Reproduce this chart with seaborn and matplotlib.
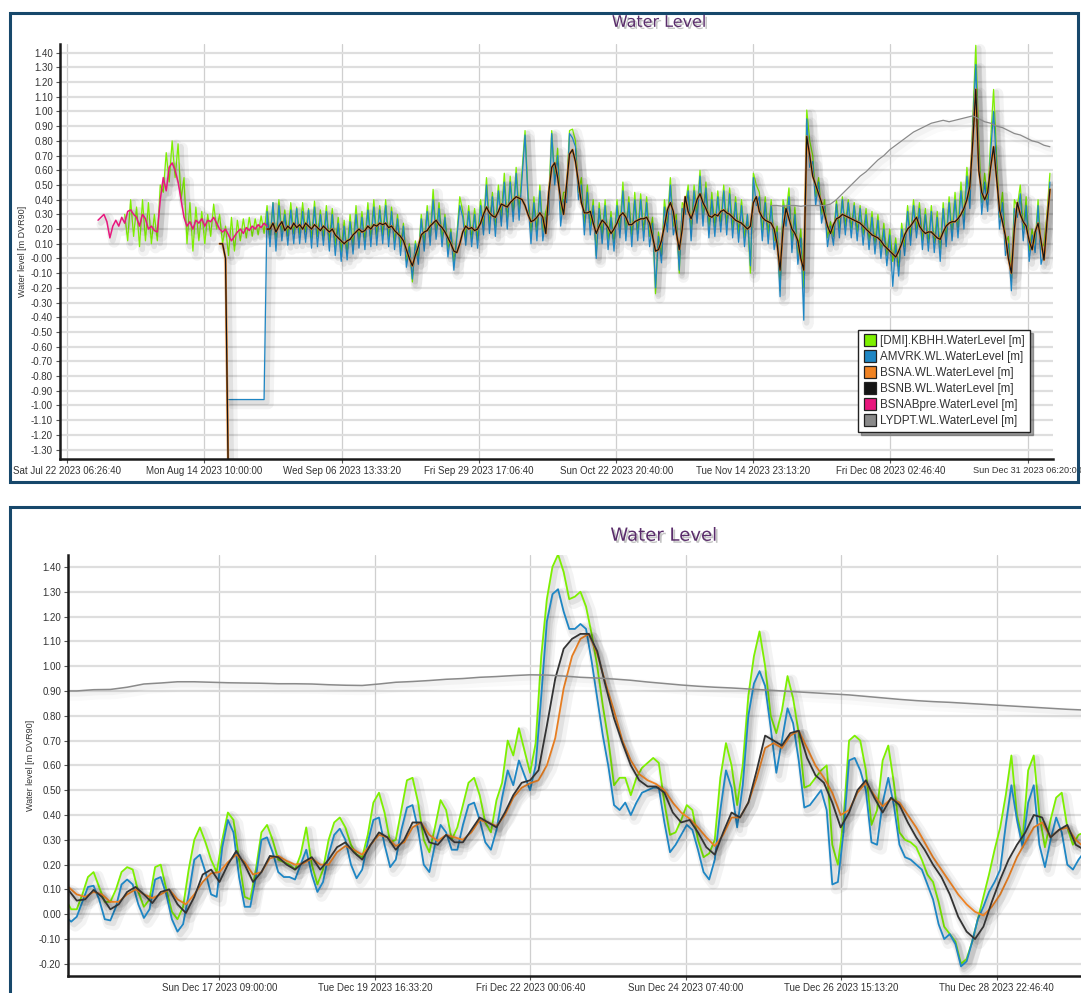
import numpy as np
import pandas as pd
import matplotlib
matplotlib.use("Agg")
import matplotlib.pyplot as plt
import matplotlib.patheffects as pe
from matplotlib.patches import Rectangle
from matplotlib.lines import Line2D
import seaborn as sns

# ---------------- overview panel (12 h steps) ----------------
pink_top = [0.26, 0.28, 0.30, 0.25, 0.14, 0.22, 0.26, 0.22, 0.28, 0.24,
            0.32, 0.33, 0.30, 0.28, 0.22, 0.30, 0.27, 0.20, 0.22, 0.19,
            0.18, 0.40, 0.55, 0.46, 0.62, 0.65, 0.60, 0.52, 0.40, 0.28,
            0.22, 0.25, 0.20, 0.26, 0.24, 0.27, 0.22, 0.26, 0.25, 0.28,
            0.24, 0.20, 0.18, 0.20, 0.16, 0.12, 0.15, 0.18, 0.20, 0.17,
            0.21, 0.19, 0.22, 0.20, 0.23, 0.21, 0.24, 0.22]

green_top = [0.30, 0.12, 0.40, 0.15, 0.35, 0.08, 0.40, 0.12, 0.38, 0.10,
             0.30, 0.12, 0.50, 0.45, 0.72, 0.52, 0.80, 0.55, 0.78, 0.40,
             0.55, 0.10, 0.38, 0.05, 0.35, 0.12, 0.32, 0.10, 0.30, 0.15,
             0.37, 0.20, 0.30, 0.10, 0.22, 0.02, 0.28, 0.05, 0.26, 0.12,
             0.27, 0.14, 0.28, 0.15, 0.27, 0.16, 0.29, 0.17,
             0.36, 0.14, 0.38, 0.12, 0.40, 0.18, 0.33, 0.15, 0.38, 0.17,
             0.35, 0.16, 0.38, 0.18, 0.34, 0.13, 0.39, 0.15, 0.33, 0.14,
             0.36, 0.11, 0.34, 0.08, 0.28, 0.04, 0.26, 0.04, 0.30, 0.09,
             0.36, 0.12, 0.32, 0.12, 0.38, 0.13, 0.40, 0.15, 0.36, 0.16,
             0.40, 0.13, 0.35, 0.11, 0.30, 0.08, 0.24, -0.02, 0.10, -0.16,
             0.12, 0.00, 0.30, 0.10, 0.36, 0.14, 0.47, 0.18, 0.38, 0.13,
             0.30, 0.06, 0.20, -0.03, 0.16, 0.42, 0.32, 0.14, 0.36, 0.13,
             0.34, 0.12, 0.40, 0.22, 0.55, 0.22, 0.45, 0.20, 0.50, 0.28,
             0.58, 0.25, 0.56, 0.30, 0.62, 0.32, 0.60, 0.87, 0.45, 0.16,
             0.42, 0.18, 0.50, 0.18, 0.32, 0.40, 0.87, 0.55, 0.75, 0.30,
             0.45, 0.45, 0.87, 0.88, 0.80, 0.45, 0.55, 0.22, 0.50, 0.22,
             0.40, 0.02, 0.38, 0.16, 0.40, 0.12, 0.32, 0.10, 0.40, 0.20,
             0.52, 0.18, 0.42, 0.14, 0.45, 0.17, 0.44, 0.18, 0.42, 0.15,
             0.28, -0.24, 0.18, 0.02, 0.40, 0.24, 0.55, 0.22, 0.30, -0.10,
             0.38, 0.35, 0.50, 0.18, 0.50, 0.30, 0.60, 0.28, 0.52, 0.20,
             0.45, 0.21, 0.46, 0.24, 0.50, 0.22, 0.48, 0.20, 0.42, 0.17,
             0.40, 0.14, 0.30, -0.10, 0.58, 0.50, 0.45, 0.18, 0.42, 0.16,
             0.40, 0.12, 0.22, -0.22, 0.40, 0.30, 0.48, 0.10, 0.35, 0.02,
             0.20, -0.20, 1.01, 0.80, 0.70, 0.42, 0.55, 0.30, 0.40, 0.14,
             0.25, 0.15, 0.40, 0.20, 0.42, 0.22, 0.40, 0.20, 0.38, 0.18,
             0.36, 0.16, 0.34, 0.12, 0.32, 0.10, 0.30, 0.06, 0.24, 0.02,
             0.20, -0.02, 0.14, -0.08, 0.24, 0.08, 0.36, 0.15, 0.40, 0.20,
             0.38, 0.12, 0.34, 0.10, 0.36, 0.10, 0.32, 0.06, 0.38, 0.14,
             0.42, 0.18, 0.45, 0.20, 0.52, 0.28, 0.62, 0.40, 0.95, 1.45,
             0.80, 0.38, 0.58, 0.40, 0.80, 1.15, 0.70, 0.28, 0.45, 0.10,
             0.15, -0.15, 0.40, 0.35, 0.50, 0.20, 0.42, 0.05, 0.20, 0.10,
             0.40, 0.06, 0.10, 0.30, 0.58]

blue_top = [-0.96, -0.96, -0.96, -0.96, -0.96, -0.96, -0.96, -0.96, -0.96, -0.96,
            -0.96, -0.96, -0.96,
            0.32, 0.08, 0.38, 0.05, 0.36, 0.12, 0.30, 0.09, 0.33, 0.10,
            0.34, 0.10, 0.32, 0.11, 0.33, 0.07, 0.35, 0.08, 0.30, 0.09,
            0.32, 0.05, 0.30, 0.02, 0.24, -0.02, 0.22, -0.01, 0.25, 0.03,
            0.30, 0.07, 0.28, 0.06, 0.33, 0.08, 0.35, 0.09, 0.33, 0.10,
            0.36, 0.08, 0.32, 0.06, 0.27, 0.02, 0.22, -0.06, 0.08, -0.14,
            0.10, -0.04, 0.27, 0.05, 0.32, 0.09, 0.40, 0.13, 0.34, 0.08,
            0.28, 0.01, 0.18, -0.08, 0.14, 0.36, 0.28, 0.09, 0.32, 0.08,
            0.30, 0.07, 0.36, 0.16, 0.50, 0.17, 0.42, 0.15, 0.46, 0.22,
            0.52, 0.20, 0.52, 0.25, 0.58, 0.26, 0.55, 0.84, 0.40, 0.10,
            0.38, 0.12, 0.46, 0.12, 0.28, 0.30, 0.85, 0.50, 0.70, 0.22,
            0.40, 0.38, 0.85, 0.82, 0.76, 0.40, 0.50, 0.16, 0.45, 0.16,
            0.36, 0.00, 0.34, 0.10, 0.36, 0.06, 0.28, 0.05, 0.36, 0.14,
            0.46, 0.12, 0.38, 0.08, 0.40, 0.12, 0.40, 0.12, 0.38, 0.08,
            0.24, -0.20, 0.15, -0.03, 0.35, 0.18, 0.50, 0.16, 0.26, -0.08,
            0.34, 0.30, 0.46, 0.12, 0.46, 0.24, 0.56, 0.22, 0.48, 0.14,
            0.40, 0.15, 0.42, 0.18, 0.46, 0.16, 0.44, 0.14, 0.38, 0.11,
            0.36, 0.08, 0.30, -0.05, 0.55, 0.36, 0.42, 0.12, 0.38, 0.10,
            0.36, 0.06, 0.18, -0.26, 0.36, 0.22, 0.42, 0.04, 0.30, -0.04,
            0.14, -0.42, 0.95, 0.62, 0.66, 0.36, 0.52, 0.24, 0.36, 0.08,
            0.22, 0.09, 0.37, 0.14, 0.40, 0.16, 0.38, 0.14, 0.36, 0.12,
            0.34, 0.09, 0.30, 0.06, 0.28, 0.03, 0.26, 0.00, 0.20, -0.05,
            0.16, -0.19, 0.10, -0.12, 0.20, 0.02, 0.32, 0.09, 0.36, 0.14,
            0.34, 0.06, 0.30, 0.05, 0.32, 0.04, 0.28, -0.02, 0.34, 0.08,
            0.38, 0.12, 0.40, 0.14, 0.46, 0.20, 0.56, 0.34, 0.90, 1.32,
            0.70, 0.30, 0.52, 0.32, 0.72, 1.00, 0.62, 0.20, 0.38, 0.02,
            0.10, -0.22, 0.34, 0.28, 0.44, 0.12, 0.36, -0.02, 0.16, 0.04,
            0.36, -0.04, 0.04, 0.20, 0.52]

black_top_pre = [0.10, 0.10, 0.00, -1.60]

black_top = [0.20, 0.20, 0.24, 0.18, 0.22, 0.25, 0.19, 0.22, 0.20, 0.24,
             0.21, 0.23, 0.20, 0.24, 0.22, 0.20, 0.23, 0.21, 0.19, 0.22,
             0.20, 0.18, 0.20, 0.16, 0.14, 0.12, 0.10, 0.12, 0.13, 0.16,
             0.18, 0.20, 0.18, 0.19, 0.22, 0.20, 0.23, 0.22, 0.24, 0.23,
             0.24, 0.21, 0.22, 0.19, 0.17, 0.15, 0.12, 0.06, 0.00, -0.05,
             0.02, 0.08, 0.16, 0.18, 0.19, 0.22, 0.24, 0.26, 0.23, 0.21,
             0.18, 0.14, 0.10, 0.05, 0.04, 0.10, 0.18, 0.22, 0.20, 0.21,
             0.19, 0.20, 0.24, 0.30, 0.35, 0.31, 0.29, 0.28, 0.32, 0.37,
             0.36, 0.35, 0.38, 0.40, 0.42, 0.41, 0.40, 0.36, 0.30, 0.25,
             0.26, 0.28, 0.31, 0.28, 0.17, 0.45, 0.62, 0.65, 0.55, 0.40,
             0.30, 0.50, 0.71, 0.74, 0.66, 0.52, 0.38, 0.31, 0.31, 0.32,
             0.24, 0.17, 0.22, 0.26, 0.24, 0.21, 0.17, 0.20, 0.24, 0.29,
             0.31, 0.28, 0.23, 0.23, 0.25, 0.26, 0.27, 0.27, 0.28, 0.24,
             0.15, 0.05, 0.06, 0.12, 0.22, 0.33, 0.38, 0.32, 0.18, 0.06,
             0.20, 0.42, 0.32, 0.27, 0.33, 0.40, 0.44, 0.38, 0.34, 0.29,
             0.28, 0.30, 0.29, 0.32, 0.33, 0.31, 0.30, 0.28, 0.26, 0.25,
             0.24, 0.22, 0.20, 0.22, 0.38, 0.42, 0.32, 0.28, 0.26, 0.25,
             0.24, 0.20, 0.10, -0.08, 0.20, 0.34, 0.27, 0.20, 0.17, 0.12,
             0.00, -0.08, 0.83, 0.70, 0.56, 0.50, 0.44, 0.38, 0.30, 0.22,
             0.17, 0.23, 0.27, 0.28, 0.30, 0.29, 0.28, 0.27, 0.26, 0.25,
             0.24, 0.22, 0.20, 0.18, 0.16, 0.15, 0.14, 0.12, 0.09, 0.07,
             0.05, 0.03, 0.01, 0.05, 0.10, 0.16, 0.20, 0.22, 0.25, 0.28,
             0.22, 0.19, 0.17, 0.18, 0.18, 0.16, 0.14, 0.13, 0.18, 0.22,
             0.24, 0.25, 0.25, 0.27, 0.30, 0.34, 0.40, 0.49, 0.80, 1.15,
             0.60, 0.45, 0.40, 0.45, 0.62, 0.76, 0.55, 0.33, 0.25, 0.15,
             0.00, -0.10, 0.20, 0.38, 0.30, 0.25, 0.22, 0.12, 0.06, 0.18,
             0.24, 0.12, -0.01, 0.25, 0.47]

gray_top = [0.36, 0.36, 0.355, 0.36, 0.36, 0.355, 0.36, 0.36, 0.36, 0.36,
            0.37, 0.40, 0.44, 0.48, 0.52, 0.56, 0.59, 0.63, 0.67, 0.70,
            0.74, 0.77, 0.80, 0.83, 0.86, 0.88, 0.90, 0.92, 0.93, 0.94,
            0.93, 0.94, 0.95, 0.96, 0.97, 0.95, 0.93, 0.92, 0.90, 0.89,
            0.87, 0.85, 0.84, 0.82, 0.80, 0.79, 0.77, 0.76]

# ---------------- zoomed panel, from Dec 15 00:00 ----------------
green_bot = [0.10, 0.06, 0.02, 0.02, 0.08, 0.15, 0.17, 0.11, 0.05, 0.05,
             0.10, 0.17, 0.19, 0.18, 0.09, 0.03, 0.06, 0.19, 0.20, 0.10,
             0.01, -0.02, 0.03, 0.18, 0.30, 0.35, 0.29, 0.22, 0.17, 0.30,
             0.41, 0.38, 0.22, 0.07, 0.06, 0.18, 0.33, 0.36, 0.30, 0.22,
             0.21, 0.20, 0.18, 0.24, 0.35, 0.20, 0.12, 0.18, 0.30, 0.37,
             0.39, 0.35, 0.28, 0.24, 0.23, 0.32, 0.45, 0.49, 0.41, 0.29,
             0.30, 0.42, 0.54, 0.55, 0.45, 0.30, 0.25, 0.35, 0.46, 0.42,
             0.30, 0.35, 0.44, 0.53, 0.55, 0.48, 0.37, 0.33, 0.46, 0.53,
             0.70, 0.64, 0.75, 0.66, 0.57, 0.69, 1.04, 1.27, 1.40, 1.45,
             1.38, 1.27, 1.28, 1.30, 1.24, 1.13, 1.00, 0.84, 0.70, 0.52,
             0.55, 0.55, 0.48, 0.55, 0.59, 0.61, 0.63, 0.61, 0.45, 0.32,
             0.33, 0.38, 0.44, 0.42, 0.30, 0.23, 0.245, 0.30, 0.55, 0.69,
             0.60, 0.44, 0.60, 0.88, 1.04, 1.14, 1.00, 0.80, 0.73, 0.82,
             0.96, 0.87, 0.73, 0.51, 0.52, 0.55, 0.58, 0.60, 0.28, 0.20,
             0.38, 0.70, 0.72, 0.70, 0.58, 0.36, 0.42, 0.62, 0.68, 0.53,
             0.33, 0.30, 0.29, 0.27, 0.22, 0.16, 0.13, 0.05, -0.05, -0.08,
             -0.11, -0.20, -0.18, -0.11, -0.02, 0.07, 0.16, 0.26, 0.35, 0.48,
             0.64, 0.40, 0.30, 0.58, 0.64, 0.40, 0.27, 0.38, 0.47, 0.49,
             0.35, 0.28, 0.32, 0.33]

blue_bot = [0.03, -0.01, -0.03, -0.01, 0.05, 0.11, 0.115, 0.06, -0.02, -0.025,
            0.03, 0.12, 0.14, 0.12, 0.04, -0.015, 0.02, 0.14, 0.15, 0.08,
            -0.02, -0.07, -0.04, 0.08, 0.22, 0.24, 0.17, 0.08, 0.07, 0.27,
            0.38, 0.33, 0.15, 0.03, 0.03, 0.15, 0.30, 0.31, 0.25, 0.17,
            0.15, 0.15, 0.14, 0.20, 0.26, 0.16, 0.09, 0.13, 0.24, 0.32,
            0.345, 0.30, 0.20, 0.145, 0.18, 0.29, 0.38, 0.39, 0.28, 0.19,
            0.22, 0.34, 0.43, 0.44, 0.34, 0.20, 0.17, 0.28, 0.36, 0.33,
            0.26, 0.26, 0.36, 0.44, 0.45, 0.38, 0.29, 0.26, 0.34, 0.47,
            0.58, 0.52, 0.62, 0.56, 0.50, 0.60, 0.88, 1.18, 1.29, 1.31,
            1.22, 1.15, 1.15, 1.17, 1.15, 1.02, 0.87, 0.72, 0.595, 0.44,
            0.42, 0.45, 0.40, 0.45, 0.49, 0.50, 0.51, 0.51, 0.37, 0.25,
            0.28, 0.32, 0.36, 0.34, 0.26, 0.17, 0.14, 0.22, 0.42, 0.58,
            0.51, 0.35, 0.52, 0.80, 0.93, 0.98, 0.92, 0.75, 0.57, 0.70,
            0.83, 0.77, 0.62, 0.43, 0.44, 0.47, 0.50, 0.42, 0.12, 0.13,
            0.33, 0.62, 0.63, 0.58, 0.50, 0.29, 0.28, 0.45, 0.55, 0.44,
            0.28, 0.23, 0.22, 0.20, 0.18, 0.12, 0.06, -0.04, -0.10, -0.08,
            -0.12, -0.21, -0.19, -0.11, -0.02, 0.03, 0.09, 0.13, 0.18, 0.36,
            0.52, 0.38, 0.27, 0.45, 0.52, 0.28, 0.19, 0.30, 0.39, 0.33,
            0.20, 0.18, 0.22, 0.25]

black_bot = [0.11, 0.098, 0.055, 0.06, 0.098, 0.07, 0.02, 0.04, 0.09, 0.11,
             0.08, 0.045, 0.09, 0.10, 0.04, 0.005, 0.07, 0.16, 0.18, 0.13,
             0.20, 0.255, 0.20, 0.13, 0.17, 0.235, 0.23, 0.20, 0.18, 0.21,
             0.23, 0.18, 0.22, 0.27, 0.29, 0.25, 0.22, 0.28, 0.33, 0.31,
             0.26, 0.30, 0.37, 0.37, 0.29, 0.28, 0.32, 0.29, 0.29, 0.34,
             0.39, 0.37, 0.35, 0.41, 0.48, 0.53, 0.54, 0.58, 0.76, 0.95,
             1.07, 1.11, 1.13, 1.13, 1.06, 0.92, 0.79, 0.69, 0.60, 0.54,
             0.515, 0.515, 0.49, 0.41, 0.37, 0.38, 0.33, 0.27, 0.24, 0.33,
             0.41, 0.39, 0.45, 0.58, 0.72, 0.70, 0.68, 0.73, 0.74, 0.63,
             0.56, 0.53, 0.45, 0.35, 0.41, 0.50, 0.54, 0.47, 0.41, 0.47,
             0.44, 0.37, 0.31, 0.26, 0.20, 0.15, 0.08, -0.01, -0.07, -0.10,
             -0.05, 0.05, 0.14, 0.22, 0.28, 0.33, 0.40, 0.39, 0.31, 0.34,
             0.36, 0.28, 0.26]

orange_bot = [0.12, 0.11, 0.08, 0.07, 0.09, 0.08, 0.05, 0.05, 0.08, 0.10,
              0.08, 0.065, 0.08, 0.10, 0.06, 0.04, 0.08, 0.13, 0.165, 0.17,
              0.21, 0.24, 0.21, 0.16, 0.17, 0.225, 0.235, 0.215, 0.20, 0.205,
              0.225, 0.20, 0.20, 0.25, 0.275, 0.26, 0.24, 0.28, 0.32, 0.31,
              0.275, 0.29, 0.35, 0.37, 0.32, 0.295, 0.32, 0.31, 0.30, 0.33,
              0.38, 0.37, 0.355, 0.40, 0.47, 0.51, 0.528, 0.54, 0.60, 0.71,
              0.91, 1.04, 1.11, 1.13, 1.05, 0.93, 0.82, 0.70, 0.62, 0.565,
              0.54, 0.525, 0.50, 0.45, 0.41, 0.385, 0.35, 0.31, 0.275, 0.32,
              0.39, 0.39, 0.45, 0.55, 0.67, 0.69, 0.67, 0.72, 0.74, 0.67,
              0.60, 0.55, 0.49, 0.40, 0.42, 0.49, 0.53, 0.48, 0.435, 0.465,
              0.45, 0.40, 0.35, 0.29, 0.23, 0.18, 0.13, 0.08, 0.04, 0.01,
              -0.005, 0.03, 0.08, 0.15, 0.23, 0.29, 0.35, 0.37, 0.31, 0.34,
              0.35, 0.30, 0.27]

gray_bot = [0.90, 0.90, 0.905, 0.906, 0.915, 0.928, 0.932, 0.937, 0.937, 0.935,
            0.933, 0.932, 0.931, 0.929, 0.929, 0.928, 0.925, 0.923, 0.922, 0.928,
            0.935, 0.938, 0.942, 0.947, 0.950, 0.955, 0.958, 0.962, 0.965, 0.964,
            0.960, 0.955, 0.952, 0.948, 0.943, 0.936, 0.930, 0.924, 0.919, 0.915,
            0.912, 0.908, 0.904, 0.900, 0.896, 0.892, 0.888, 0.884, 0.878, 0.872,
            0.866, 0.861, 0.857, 0.854, 0.850, 0.846, 0.842, 0.838, 0.834, 0.830,
            0.826, 0.823]

top_xticks = ["Sat Jul 22 2023 06:26:40", "Mon Aug 14 2023 10:00:00", "Wed Sep 06 2023 13:33:20",
              "Fri Sep 29 2023 17:06:40", "Sun Oct 22 2023 20:40:00", "Tue Nov 14 2023 23:13:20",
              "Fri Dec 08 2023 02:46:40", "Sun Dec 31 2023 06:20:00"]
bot_xticks = ["Sun Dec 17 2023 09:00:00", "Tue Dec 19 2023 16:33:20", "Fri Dec 22 2023 00:06:40",
              "Sun Dec 24 2023 07:40:00", "Tue Dec 26 2023 15:13:20", "Thu Dec 28 2023 22:46:40"]

names = ["[DMI].KBHH.WaterLevel [m]", "AMVRK.WL.WaterLevel [m]", "BSNA.WL.WaterLevel [m]",
         "BSNB.WL.WaterLevel [m]", "BSNABpre.WaterLevel [m]", "LYDPT.WL.WaterLevel [m]"]
colors = ["#7df000", "#1e86c4", "#f08323", "#151515", "#e8177d", "#8a8a8a"]
GREEN, BLUE, ORANGE, BLACK, PINK, GRAY = colors
BORDER = "#17486b"
TICK_FMT = "%a %b %d %Y %H:%M:%S"

sns.set_theme(style="white")
plt.rcParams["font.family"] = ["Liberation Sans", "DejaVu Sans"]


def series(start, step, vals):
    return pd.DataFrame({"t": pd.date_range(start, periods=len(vals), freq=step), "v": vals})


def draw(ax, df, color, lw, shadow=0.07):
    sns.lineplot(data=df, x="t", y="v", ax=ax, color=color, linewidth=lw,
                 estimator=None, sort=False)
    line = ax.lines[-1]
    line.set_solid_joinstyle("round")
    if shadow:
        line.set_path_effects([
            pe.SimpleLineShadow(offset=(3, -3), shadow_color="black", alpha=shadow * 0.7, linewidth=lw + 7),
            pe.SimpleLineShadow(offset=(2, -2), shadow_color="black", alpha=shadow, linewidth=lw + 3),
            pe.Normal()])


def style(ax, xticks, xlim, ylim, yticks, zero_lbl):
    ax.set_xlim(pd.Timestamp(xlim[0]), pd.Timestamp(xlim[1]))
    ax.set_ylim(*ylim)
    ticks = pd.to_datetime(xticks, format=TICK_FMT)
    ax.set_xticks(ticks)
    ax.set_xticklabels(xticks, fontsize=7, color="#333333")
    ax.set_yticks(yticks)
    ax.set_yticklabels([zero_lbl if abs(v) < 1e-9 else f"{v:.2f}" for v in yticks],
                       fontsize=7, color="#333333")
    ax.grid(axis="y", color="#dedede", lw=1.6)
    ax.grid(axis="x", color="#cfcfcf", lw=0.9)
    ax.set_axisbelow(True)
    for s in ["top", "right"]:
        ax.spines[s].set_visible(False)
    for s in ["left", "bottom"]:
        ax.spines[s].set_color("#1a1a1a")
        ax.spines[s].set_linewidth(1.8)
    ax.tick_params(axis="both", direction="out", length=3, width=0.8, color="#555555", pad=2,
                   left=True, bottom=True)
    ax.set_xlabel("")
    ax.set_ylabel("Water level [m DVR90]", fontsize=6.5, color="#333333", labelpad=3)


fig = plt.figure(figsize=(10.81, 9.93), dpi=100)
ax1 = fig.add_axes([0.0555, 0.5378, 0.9185, 0.4179])
ax2 = fig.add_axes([0.0629, 0.0171, 0.94, 0.4240])

# overview panel
draw(ax1, series("2023-08-01", "12h", green_top), GREEN, 0.9)
draw(ax1, series("2023-08-18 12:00", "12h", blue_top), BLUE, 0.9)
draw(ax1, series("2023-08-17", "12h", black_top_pre), ORANGE, 1.6)
draw(ax1, series("2023-08-25", "12h", black_top), ORANGE, 1.6)
draw(ax1, series("2023-08-17", "12h", black_top_pre), BLACK, 0.9, shadow=0)
draw(ax1, series("2023-08-25", "12h", black_top), BLACK, 0.9, shadow=0)
draw(ax1, series("2023-07-27 12:00", "12h", pink_top), PINK, 1.1)
draw(ax1, series("2023-11-18", "D", gray_top), GRAY, 0.9, shadow=0.03)
style(ax1, top_xticks, ("2023-07-21 02:10", "2024-01-04 12:00"), (-1.364, 1.459),
      np.round(np.arange(-1.3, 1.41, 0.1), 2), "-0.00")
ax1.get_xticklabels()[-1].set_fontsize(6.6)

handles = [Line2D([], [], ls="", marker="s", markersize=8, markerfacecolor=c,
                  markeredgecolor="#222222", markeredgewidth=0.9) for c in colors]
leg = ax1.legend(handles, names, loc="lower right", bbox_to_anchor=(0.977, 0.064),
                 fontsize=8.4, frameon=True, fancybox=False, shadow=True, borderpad=0.45,
                 labelspacing=0.34, handletextpad=0.4, handlelength=1.0, borderaxespad=0)
leg.get_frame().set_edgecolor("#222222")
leg.get_frame().set_linewidth(1.0)
for t in leg.get_texts():
    t.set_color("#333333")

# zoomed panel
draw(ax2, series("2023-12-15", "2h", green_bot), GREEN, 1.3)
draw(ax2, series("2023-12-15", "2h", blue_bot), BLUE, 1.3)
draw(ax2, series("2023-12-15", "3h", orange_bot), ORANGE, 1.3)
draw(ax2, series("2023-12-15", "3h", black_bot), "#333333", 1.3)
draw(ax2, series("2023-12-15", "6h", gray_bot), GRAY, 1.1, shadow=0.03)
style(ax2, bot_xticks, ("2023-12-15 02:52", "2023-12-30 06:00"), (-0.249, 1.448),
      np.round(np.arange(-0.2, 1.41, 0.1), 2), "0.00")

# titles and panel frames
shadow_fx = [pe.SimplePatchShadow(offset=(1.5, -1.5), shadow_rgbFace="#888888", alpha=0.5), pe.Normal()]
fig.text(0.610, 0.9775, "Water Level", ha="center", va="center", fontsize=11.5,
         color="#5a2d6b", path_effects=shadow_fx, family=["DejaVu Sans"])
fig.text(0.614, 0.4605, "Water Level", ha="center", va="center", fontsize=13,
         color="#5a2d6b", path_effects=shadow_fx, family=["DejaVu Sans"])

fig.add_artist(Rectangle((0.0093, 0.5146), 0.9880, 0.4723, transform=fig.transFigure,
                         fill=False, ec=BORDER, lw=2.2))
fig.add_artist(Rectangle((0.0093, -0.02), 1.02, 0.5094, transform=fig.transFigure,
                         fill=False, ec=BORDER, lw=2.2))

fig.savefig("out.png", dpi=100)
